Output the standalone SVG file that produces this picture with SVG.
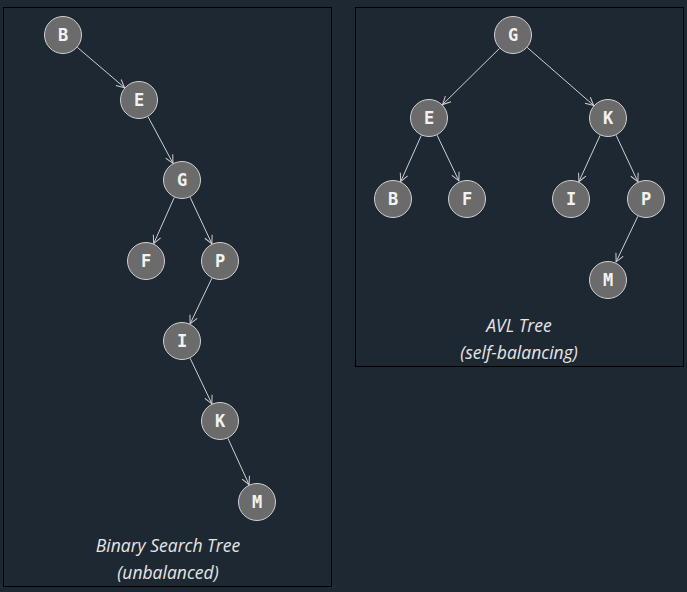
<svg xmlns="http://www.w3.org/2000/svg" width="687" height="592" viewBox="0 0 687 592">
<defs>
<marker id="arr" markerWidth="10" markerHeight="10" refX="9" refY="5" orient="auto" markerUnits="userSpaceOnUse">
<path d="M1,1 L9,5 L1,9" fill="none" stroke="#d0d0d0" stroke-width="1"/>
</marker>
<style>
.panel{fill:#1e2833;stroke:#000;stroke-width:1}
.node circle{fill:#6b6b6b;stroke:#d0d0d0;stroke-width:1}
.node text{font-family:"DejaVu Sans Mono",monospace;font-weight:bold;font-size:17px;fill:#f2f2f2;text-anchor:middle;dominant-baseline:central}
.edge{stroke:#d0d0d0;stroke-width:1;fill:none;marker-end:url(#arr)}
.cap{font-family:"Open Sans",sans-serif;font-style:italic;font-size:17.5px;fill:#e6e6e6;text-anchor:middle}
</style>
</defs>
<rect width="687" height="592" fill="#1e2833"/>
<rect class="panel" x="3.5" y="7.5" width="328" height="579"/>
<rect class="panel" x="355.5" y="7.5" width="328" height="359"/>
<g id="connectors">
<line class="edge" x1="77.4" y1="47.4" x2="124.6" y2="87.7"/>
<line class="edge" x1="148" y1="116.7" x2="173" y2="163.3"/>
<line class="edge" x1="174.3" y1="197.4" x2="153.7" y2="243.6"/>
<line class="edge" x1="190.1" y1="197.2" x2="211.9" y2="243.8"/>
<line class="edge" x1="211.9" y1="278.2" x2="190.1" y2="323.8"/>
<line class="edge" x1="190.1" y1="358.2" x2="211.9" y2="403.8"/>
<line class="edge" x1="227.9" y1="438.3" x2="249.1" y2="484.7"/>
<line class="edge" x1="499.5" y1="48.4" x2="442.5" y2="104.6"/>
<line class="edge" x1="527.3" y1="47.5" x2="593.7" y2="105.5"/>
<line class="edge" x1="421.3" y1="135.4" x2="400.7" y2="181.6"/>
<line class="edge" x1="437.1" y1="135.2" x2="458.9" y2="180.8"/>
<line class="edge" x1="600.1" y1="135.3" x2="578.9" y2="181.7"/>
<line class="edge" x1="616.1" y1="135.2" x2="637.9" y2="181.8"/>
<line class="edge" x1="637.9" y1="216.2" x2="616.1" y2="261.8"/>
</g>
<g id="bst-B" class="node"><circle cx="63" cy="35" r="18.5"/><text x="63" y="35">B</text></g>
<g id="bst-E" class="node"><circle cx="139" cy="100" r="18.5"/><text x="139" y="100">E</text></g>
<g id="bst-G" class="node"><circle cx="182" cy="180" r="18.5"/><text x="182" y="180">G</text></g>
<g id="bst-F" class="node"><circle cx="146" cy="261" r="18.5"/><text x="146" y="261">F</text></g>
<g id="bst-P" class="node"><circle cx="220" cy="261" r="18.5"/><text x="220" y="261">P</text></g>
<g id="bst-I" class="node"><circle cx="182" cy="341" r="18.5"/><text x="182" y="341">I</text></g>
<g id="bst-K" class="node"><circle cx="220" cy="421" r="18.5"/><text x="220" y="421">K</text></g>
<g id="bst-M" class="node"><circle cx="257" cy="502" r="18.5"/><text x="257" y="502">M</text></g>
<g id="avl-G" class="node"><circle cx="513" cy="35" r="18.5"/><text x="513" y="35">G</text></g>
<g id="avl-E" class="node"><circle cx="429" cy="118" r="18.5"/><text x="429" y="118">E</text></g>
<g id="avl-K" class="node"><circle cx="608" cy="118" r="18.5"/><text x="608" y="118">K</text></g>
<g id="avl-B" class="node"><circle cx="393" cy="199" r="18.5"/><text x="393" y="199">B</text></g>
<g id="avl-F" class="node"><circle cx="467" cy="199" r="18.5"/><text x="467" y="199">F</text></g>
<g id="avl-I" class="node"><circle cx="571" cy="199" r="18.5"/><text x="571" y="199">I</text></g>
<g id="avl-P" class="node"><circle cx="646" cy="199" r="18.5"/><text x="646" y="199">P</text></g>
<g id="avl-M" class="node"><circle cx="608" cy="280" r="18.5"/><text x="608" y="280">M</text></g>
<g id="captions">
<text class="cap" x="168" y="552">Binary Search Tree</text>
<text class="cap" x="168" y="579">(unbalanced)</text>
<text class="cap" x="519" y="332">AVL Tree</text>
<text class="cap" x="519" y="359">(self-balancing)</text>
</g>
</svg>
